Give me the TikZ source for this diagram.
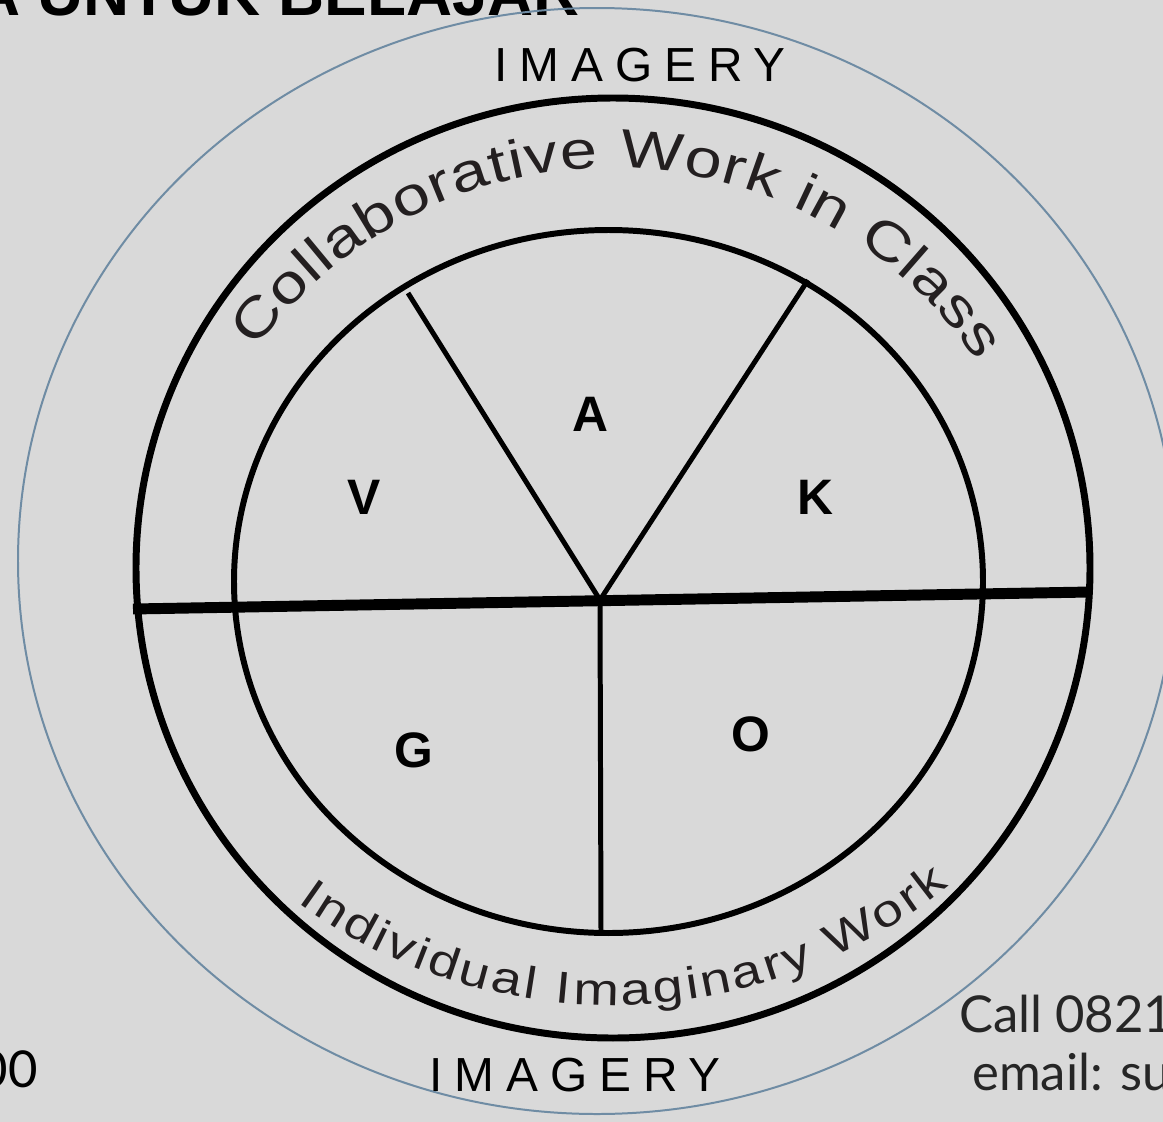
\documentclass[tikz,border=0pt]{standalone}
\usepackage{fontspec}
\setmainfont{Liberation Sans}
\newfontfamily\latofont{Lato}
\newfontfamily\widesans[FakeStretch=1.24]{Liberation Sans}
\newfontfamily\widesansb[FakeStretch=1.22]{Liberation Sans}
\usetikzlibrary{decorations.text}
\definecolor{bg}{HTML}{D9D9D9}
\definecolor{ringblue}{HTML}{6F8CA4}
\definecolor{ink}{HTML}{231F20}
\definecolor{grayink}{HTML}{262626}
\begin{document}
\begin{tikzpicture}[x=1bp,y=1bp,
  sector/.style={font=\fontsize{50}{60}\selectfont\bfseries, inner sep=0pt},
  imagery/.style={font=\fontsize{48}{56}\selectfont\addfontfeature{LetterSpace=25}, inner sep=0pt},
  contact/.style={font=\latofont\fontsize{51}{60}\selectfont, text=grayink, inner sep=0pt},
  ring/.style={line width=7pt},
  innerring/.style={line width=6pt},
  divider/.style={line width=5pt},
  axis/.style={line width=11pt}]
\useasboundingbox (0,0) rectangle (1163,-1122);
\clip (0,0) rectangle (1163,-1122);
\fill[bg] (0,0) rectangle (1163,-1122);

% title (cut off at top)
\node[anchor=base east, font=\fontsize{64}{70}\selectfont\bfseries, inner sep=0pt] (title) at (580,-15) {A UNTUK BELAJAR};

% outer thin ring
\draw[ringblue, line width=2pt] (597,-561) ellipse [x radius=579, y radius=553];
% black rings
\draw[ring] (613,-568) ellipse [x radius=477, y radius=470];
\draw[innerring] (608.5,-581.5) ellipse [x radius=374.5, y radius=351.5];

% curved texts
\path[decorate, decoration={text along path, text align={fit to path},
  text={|\widesans\fontsize{54}{60}\selectfont\color{ink}|Collaborative Work in Class}}]
  (612,-608) ++(144:440) arc[start angle=144, end angle=34, radius=440];
\path[decorate, decoration={text along path, text align={fit to path},
  text={|\widesansb\fontsize{45}{54}\selectfont\color{ink}|Individual Imaginary Work}}]
  (612,-470) ++(234:535) arc[start angle=234, end angle=309, radius=535];

% dividers
\coordinate (ctr) at (600,-600);
\coordinate (vl) at (408,-293);
\coordinate (vr) at (808,-280);
\coordinate (vb) at (601,-933);
\coordinate (hl) at (133,-609);
\coordinate (hr) at (1090,-592);
\draw[divider] (vl) -- (ctr) -- (vr);
\draw[divider] (ctr) -- (vb);
\draw[axis] (hl) -- (hr);

% sector letters
\node[sector] (V) at (364,-497) {V};
\node[sector] (A) at (590,-414) {A};
\node[sector] (K) at (815,-497) {K};
\node[sector] (G) at (414,-750) {G};
\node[sector] (O) at (751,-734) {O};

% IMAGERY labels
\node[imagery] (imgtop) at (640,-65) {IMAGERY};
\node[imagery] (imgbot) at (575,-1075) {IMAGERY};

% side texts
\node[contact, anchor=base east, text=black] (num) at (38,-1087) {00};
\node[contact, anchor=base west] (call) at (959,-1032) {Call 0821};
\node[contact, anchor=base west] (mail) at (972,-1090) {email: su};
\end{tikzpicture}
\end{document}
